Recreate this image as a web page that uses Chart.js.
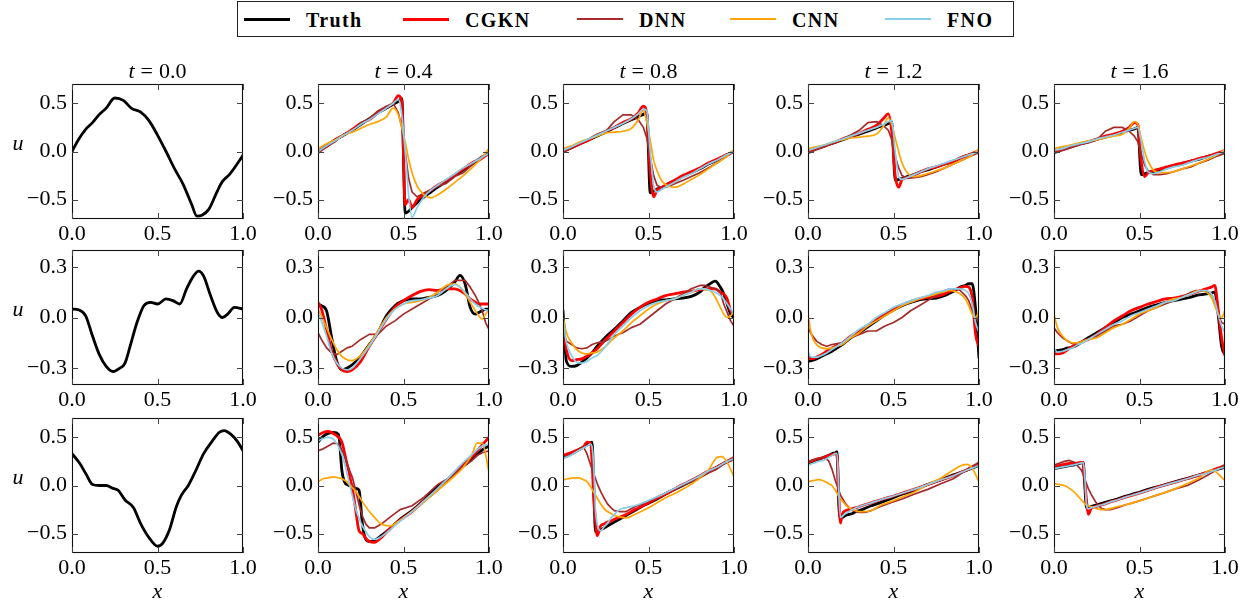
<!DOCTYPE html>
<html>
<head>
<meta charset="utf-8">
<script src="https://cdn.jsdelivr.net/npm/chart.js@4.4.0/dist/chart.umd.min.js"></script>
<style>
    body { margin: 0; background: #fff; }
    #fig { position: relative; width: 1250px; height: 605px; overflow: hidden; font-family: 'Liberation Serif', serif; color: #000; }
    #fig canvas { position: absolute; }
    .txt { position: absolute; font-size: 22px; white-space: nowrap; transform: translate(-50%, -50%); line-height: 1; }
    .eq { margin: 0 6px; }
    #legend { position: absolute; left: 237px; top: 1px; width: 775px; height: 34px; border: 1px solid #222; box-sizing: content-box; }
    .leg-line { position: absolute; height: 0; }
    .leg-text { position: absolute; font-weight: bold; font-size: 20px; letter-spacing: 1.4px; transform: translateY(-50%); line-height: 1; }
</style>
</head>
<body>
<div id="fig">
    <div id="legend"></div>
</div>
<script>
// ---- data ----
const seriesNames = ['Truth', 'CGKN', 'DNN', 'CNN', 'FNO'];
const times = ['0.0', '0.4', '0.8', '1.2', '1.6'];
const xTicks = [0, 0.5, 1];
const yTicksOuter = [-0.5, 0, 0.5];
const yTicksMiddle = [-0.3, 0, 0.3];

// initial conditions (t = 0)
const xs0Row1 = [0, .04, .08, .12, .16, .2, .25, .3, .35, .4, .45, .5, .55, .6, .65, .7, .73, .76, .8, .85, .88, .92, .95, 1];
const u0Row1 = [0, .13, .23, .30, .385, .45, .555, .53, .445, .41, .32, .17, 0, -.18, -.34, -.55, -.67, -.66, -.60, -.41, -.31, -.24, -.17, -.04];
const xs0Row2 = [0, .04, .08, .12, .16, .2, .24, .28, .31, .34, .38, .42, .46, .5, .55, .59, .63, .67, .71, .74, .77, .81, .85, .88, .91, .95, 1];
const u0Row2 = [.05, .045, .01, -.11, -.22, -.29, -.32, -.30, -.27, -.17, -.03, .07, .09, .08, .11, .10, .08, .17, .245, .275, .245, .13, .03, 0, .02, .06, .05];
const xs0Row3 = [0, .045, .085, .12, .16, .2, .24, .27, .31, .36, .4, .45, .5, .53, .57, .61, .64, .68, .72, .77, .82, .86, .89, .93, .97, 1];
const u0Row3 = [.33, .23, .11, .01, 0, 0, -.03, -.05, -.15, -.23, -.39, -.54, -.63, -.60, -.46, -.22, -.10, 0, .14, .33, .46, .55, .57, .53, .45, .36];

// x grids for the predicted panels
const xsRow1 = [0, .05, .1, .15, .2, .25, .3, .35, .4, .44, .47, .49, .51, .53, .55, .58, .62, .66, .7, .75, .8, .85, .9, .95, 1];
const xsRow2 = [0, .02, .05, .08, .11, .14, .17, .2, .25, .3, .35, .4, .45, .5, .55, .6, .65, .7, .75, .8, .83, .86, .89, .92, .94, .96, .98, 1];
const xsRow3 = [0, .03, .06, .09, .12, .14, .16, .17, .18, .19, .2, .22, .24, .26, .28, .3, .33, .37, .42, .48, .55, .62, .7, .78, .85, .9, .93, .96, 1];

// row 1
const r1_04_truth = [0, .06, .12, .17, .22, .28, .34, .40, .45, .49, .52, .55, -.64, -.62, -.58, -.53, -.47, -.42, -.37, -.31, -.25, -.19, -.13, -.07, -.01];
const r1_04_cgkn = [0, .05, .12, .17, .23, .29, .33, .40, .46, .50, .58, .52, -.55, -.50, -.58, -.50, -.44, -.40, -.35, -.30, -.24, -.18, -.12, -.08, -.02];
const r1_04_dnn = [-.02, .05, .10, .18, .21, .30, .34, .42, .47, .50, .40, .25, 0, -.28, -.42, -.47, -.43, -.40, -.36, -.33, -.26, -.22, -.14, -.06, -.01];
const r1_04_cnn = [.03, .08, .12, .17, .20, .24, .28, .31, .36, .45, .38, .25, .10, -.08, -.22, -.36, -.45, -.48, -.45, -.39, -.32, -.25, -.17, -.08, .03];
const r1_04_fno = [0, .06, .11, .17, .22, .28, .33, .39, .45, .50, .54, .38, 0, -.45, -.68, -.58, -.47, -.40, -.35, -.29, -.23, -.17, -.12, -.07, -.02];

const r1_08_truth = [0, .04, .08, .12, .16, .20, .245, .29, .33, .36, .385, .40, -.43, -.41, -.39, -.37, -.33, -.30, -.26, -.22, -.18, -.13, -.09, -.04, 0];
const r1_08_cgkn = [0, .04, .08, .12, .17, .21, .25, .30, .34, .40, .47, .38, -.20, -.47, -.40, -.37, -.33, -.29, -.25, -.21, -.17, -.12, -.08, -.04, 0];
const r1_08_dnn = [-.01, .04, .09, .13, .18, .21, .31, .38, .38, .33, .25, .14, -.05, -.25, -.35, -.38, -.36, -.33, -.30, -.26, -.22, -.17, -.12, -.06, 0];
const r1_08_cnn = [.03, .06, .10, .13, .16, .19, .20, .21, .24, .33, .43, .30, .12, -.09, -.20, -.31, -.36, -.37, -.34, -.29, -.24, -.18, -.12, -.06, .02];
const r1_08_fno = [.01, .05, .09, .13, .17, .21, .25, .29, .34, .39, .44, .42, 0, -.35, -.42, -.39, -.35, -.31, -.27, -.23, -.18, -.13, -.09, -.04, 0];

const r1_12_truth = [0, .03, .06, .09, .12, .15, .18, .21, .245, .27, .29, .31, -.30, -.29, -.28, -.26, -.24, -.21, -.19, -.16, -.13, -.10, -.06, -.03, 0];
const r1_12_cgkn = [-.01, .03, .06, .09, .13, .16, .19, .23, .27, .34, .39, .20, -.25, -.37, -.29, -.27, -.24, -.21, -.18, -.16, -.13, -.10, -.06, -.03, .01];
const r1_12_dnn = [-.02, .02, .05, .09, .13, .17, .22, .30, .31, .27, .22, .12, -.05, -.17, -.25, -.28, -.27, -.26, -.24, -.21, -.17, -.13, -.09, -.05, -.01];
const r1_12_cnn = [.03, .05, .07, .10, .12, .14, .15, .16, .18, .26, .35, .28, .14, 0, -.12, -.22, -.26, -.25, -.23, -.20, -.17, -.13, -.09, -.05, .03];
const r1_12_fno = [.01, .04, .07, .10, .13, .16, .19, .22, .25, .28, .31, .32, 0, -.26, -.29, -.27, -.24, -.21, -.18, -.15, -.12, -.09, -.06, -.03, 0];

const r1_16_truth = [0, .025, .05, .075, .10, .125, .15, .175, .20, .22, .235, .25, -.24, -.23, -.22, -.21, -.19, -.17, -.15, -.13, -.10, -.08, -.05, -.03, 0];
const r1_16_cgkn = [0, .02, .05, .08, .10, .13, .16, .18, .21, .25, .30, .28, -.10, -.26, -.22, -.20, -.18, -.16, -.14, -.12, -.10, -.07, -.05, -.02, .01];
const r1_16_dnn = [-.02, .01, .04, .07, .09, .12, .21, .25, .25, .21, .16, .10, -.02, -.14, -.20, -.24, -.24, -.23, -.21, -.18, -.16, -.12, -.09, -.05, -.02];
const r1_16_cnn = [.03, .05, .07, .09, .11, .12, .14, .16, .18, .24, .31, .28, .14, 0, -.10, -.19, -.22, -.22, -.21, -.18, -.15, -.12, -.08, -.04, .02];
const r1_16_fno = [.01, .03, .06, .08, .10, .13, .15, .17, .20, .22, .24, .25, .10, -.10, -.21, -.23, -.21, -.18, -.16, -.14, -.11, -.08, -.06, -.03, 0];

// row 2
const r2_04_truth = [.08, .07, .04, -.12, -.26, -.31, -.30, -.28, -.23, -.16, -.09, .01, .07, .10, .11, .11, .12, .13, .16, .21, .25, .20, .06, .02, .03, .04, .05, .05];
const r2_04_cgkn = [.09, .05, -.07, -.20, -.27, -.31, -.32, -.31, -.26, -.17, -.09, -.01, .06, .10, .13, .155, .165, .16, .17, .17, .16, .14, .11, .09, .08, .08, .08, .08];
const r2_04_dnn = [-.09, -.13, -.18, -.21, -.22, -.20, -.18, -.17, -.13, -.10, -.10, -.05, -.02, .02, .05, .08, .11, .15, .18, .22, .22, .22, .18, .13, .09, .04, -.03, -.07];
const r2_04_cnn = [.05, .01, -.06, -.13, -.19, -.23, -.25, -.255, -.225, -.16, -.08, 0, .05, .08, .09, .10, .12, .15, .19, .20, .18, .14, .09, .04, .01, -.01, .02, .05];
const r2_04_fno = [.03, -.02, -.11, -.21, -.27, -.30, -.31, -.30, -.24, -.17, -.09, -.01, .05, .08, .10, .105, .115, .13, .17, .195, .18, .15, .11, .08, .065, .055, .045, .04];

const r2_08_truth = [.04, -.26, -.29, -.285, -.265, -.24, -.21, -.17, -.115, -.07, -.02, .03, .06, .085, .10, .105, .11, .115, .125, .15, .18, .20, .215, .18, .14, .08, .02, 0];
const r2_08_cgkn = [-.03, -.19, -.255, -.25, -.245, -.23, -.21, -.185, -.13, -.08, -.03, .02, .06, .09, .11, .13, .14, .15, .155, .165, .17, .17, .17, .15, .14, .11, .04, .02];
const r2_08_dnn = [-.09, -.14, -.16, -.18, -.185, -.18, -.16, -.15, -.14, -.11, -.09, -.06, -.04, 0, .04, .08, .11, .14, .17, .19, .19, .18, .17, .15, .08, .03, -.02, -.05];
const r2_08_cnn = [.01, -.09, -.15, -.19, -.21, -.215, -.21, -.205, -.17, -.12, -.08, -.03, .01, .05, .08, .10, .11, .13, .15, .17, .165, .16, .12, .06, .02, 0, .01, .04];
const r2_08_fno = [-.01, -.15, -.225, -.265, -.27, -.26, -.24, -.225, -.17, -.10, -.05, 0, .04, .07, .09, .10, .11, .13, .15, .17, .17, .16, .15, .13, .11, .08, .05, .02];

const r2_12_truth = [-.26, -.255, -.245, -.23, -.215, -.20, -.18, -.16, -.12, -.09, -.055, -.02, .015, .045, .07, .09, .105, .11, .115, .13, .145, .16, .18, .19, .20, .20, .05, -.24];
const r2_12_cgkn = [-.235, -.245, -.235, -.22, -.20, -.18, -.165, -.15, -.11, -.08, -.045, -.01, .02, .05, .075, .095, .11, .12, .125, .14, .155, .165, .175, .185, .18, .12, -.10, -.17];
const r2_12_dnn = [-.06, -.10, -.14, -.16, -.17, -.16, -.155, -.15, -.12, -.10, -.08, -.08, -.05, -.03, 0, .04, .07, .10, .13, .16, .17, .17, .16, .13, .10, .04, 0, -.03];
const r2_12_cnn = [.02, -.10, -.16, -.18, -.185, -.18, -.17, -.16, -.12, -.09, -.05, -.02, .01, .04, .07, .09, .11, .125, .14, .155, .16, .155, .14, .11, .07, .02, 0, .04];
const r2_12_fno = [-.205, -.235, -.235, -.225, -.21, -.19, -.17, -.15, -.11, -.07, -.04, 0, .03, .06, .08, .10, .115, .13, .15, .16, .17, .17, .17, .16, .14, .08, -.03, -.09];

const r2_16_truth = [-.20, -.195, -.19, -.18, -.175, -.16, -.14, -.12, -.09, -.06, -.03, 0, .02, .04, .06, .075, .09, .10, .11, .12, .13, .135, .14, .145, .15, .02, -.17, -.22];
const r2_16_cgkn = [-.215, -.215, -.21, -.19, -.17, -.155, -.14, -.13, -.10, -.06, -.02, .01, .04, .06, .08, .095, .11, .115, .125, .14, .15, .16, .17, .18, .19, .05, -.12, -.225];
const r2_16_dnn = [-.06, -.09, -.12, -.14, -.155, -.15, -.14, -.13, -.11, -.08, -.05, -.04, -.02, .01, .04, .06, .08, .10, .12, .15, .16, .16, .155, .14, .09, .02, -.03, -.04];
const r2_16_cnn = [.02, -.06, -.11, -.14, -.15, -.15, -.14, -.13, -.12, -.09, -.06, -.04, -.01, .02, .04, .06, .09, .11, .12, .14, .155, .16, .15, .12, .07, .02, 0, .04];
const r2_16_fno = [-.185, -.205, -.20, -.19, -.18, -.16, -.15, -.13, -.10, -.07, -.04, -.02, .01, .03, .05, .07, .09, .10, .12, .14, .15, .16, .16, .14, .10, .02, -.05, -.09];

// row 3
const r3_04_truth = [.45, .51, .54, .55, .53, .15, .02, .01, 0, 0, -.01, -.03, -.05, -.40, -.56, -.58, -.57, -.52, -.45, -.35, -.26, -.15, -.01, .09, .20, .27, .32, .37, .41];
const r3_04_cgkn = [.52, .55, .56, .54, .50, .45, .30, .22, .15, .06, -.02, -.25, -.47, -.50, -.55, -.58, -.59, -.54, -.45, -.36, -.27, -.16, -.04, .10, .22, .30, .36, .42, .50];
const r3_04_dnn = [.36, .38, .41, .44, .43, .37, .28, .23, .18, .13, .09, -.05, -.20, -.32, -.40, -.44, -.44, -.40, -.33, -.25, -.21, -.12, .01, .09, .20, .26, .31, .34, .36];
const r3_04_cnn = [.04, .07, .08, .09, .08, .07, .05, .04, .01, 0, -.02, -.06, -.11, -.17, -.22, -.27, -.33, -.40, -.42, -.36, -.27, -.17, -.05, .07, .19, .32, .44, .44, .14];
const r3_04_fno = [.46, .49, .50, .48, .40, .32, .20, .12, .05, -.03, -.10, -.24, -.34, -.42, -.48, -.53, -.56, -.53, -.46, -.37, -.27, -.16, -.03, .11, .24, .32, .37, .41, .43];

const r3_08_truth = [.29, .31, .34, .37, .40, .42, .44, .45, 0, -.48, -.48, -.46, -.44, -.42, -.40, -.38, -.35, -.31, -.26, -.20, -.14, -.07, 0, .07, .14, .19, .22, .25, .28];
const r3_08_cgkn = [.31, .33, .35, .37, .40, .45, .44, .25, -.15, -.35, -.52, -.42, -.40, -.38, -.37, -.35, -.33, -.30, -.25, -.20, -.13, -.07, .01, .08, .15, .19, .22, .25, .29];
const r3_08_dnn = [.28, .31, .33, .36, .40, .33, .22, .17, .12, .07, .02, -.06, -.13, -.19, -.23, -.26, -.27, -.27, -.22, -.18, -.12, -.06, 0, .06, .13, .17, .21, .24, .27];
const r3_08_cnn = [.06, .07, .08, .08, .06, .04, -.01, -.04, -.07, -.10, -.13, -.19, -.24, -.27, -.29, -.31, -.325, -.335, -.30, -.25, -.18, -.11, -.04, .05, .16, .29, .30, .24, .09];
const r3_08_fno = [.28, .30, .33, .36, .39, .41, .43, .40, .19, -.25, -.40, -.47, -.43, -.39, -.34, -.30, -.25, -.23, -.21, -.17, -.12, -.06, .01, .08, .15, .19, .22, .25, .28];

const r3_12_truth = [.23, .25, .27, .29, .31, .33, .34, .35, -.20, -.33, -.33, -.31, -.30, -.29, -.27, -.26, -.24, -.21, -.18, -.14, -.09, -.05, .01, .06, .11, .14, .16, .18, .21];
const r3_12_cgkn = [.24, .26, .28, .29, .31, .32, .33, .30, -.10, -.39, -.30, -.26, -.25, -.24, -.23, -.22, -.20, -.18, -.15, -.12, -.08, -.04, .01, .06, .10, .14, .16, .19, .22];
const r3_12_dnn = [.24, .27, .28, .29, .26, .17, .05, 0, -.05, -.10, -.13, -.19, -.23, -.26, -.27, -.28, -.28, -.26, -.22, -.18, -.14, -.09, -.04, .02, .07, .13, .17, .20, .24];
const r3_12_cnn = [.04, .05, .06, .05, .02, 0, -.05, -.08, -.11, -.14, -.16, -.20, -.23, -.25, -.26, -.27, -.27, -.26, -.21, -.17, -.12, -.07, .01, .08, .16, .21, .22, .18, .04];
const r3_12_fno = [.21, .23, .25, .26, .29, .31, .33, .33, -.05, -.33, -.32, -.29, -.27, -.25, -.23, -.22, -.20, -.18, -.15, -.12, -.08, -.04, .01, .06, .10, .14, .16, .18, .21];

const r3_16_truth = [.175, .185, .195, .205, .215, .225, .235, .24, 0, -.23, -.23, -.215, -.205, -.195, -.185, -.175, -.16, -.14, -.11, -.08, -.04, -.005, .035, .075, .11, .14, .155, .17, .19];
const r3_16_cgkn = [.19, .21, .22, .23, .23, .235, .24, .24, .05, -.15, -.30, -.23, -.22, -.21, -.20, -.19, -.17, -.15, -.12, -.09, -.05, -.01, .03, .07, .11, .14, .16, .18, .21];
const r3_16_dnn = [.21, .23, .25, .26, .24, .20, .16, .12, .06, .02, -.03, -.10, -.16, -.21, -.24, -.25, -.25, -.23, -.20, -.17, -.13, -.09, -.04, 0, .06, .11, .14, .17, .21];
const r3_16_cnn = [.02, .01, 0, -.03, -.07, -.11, -.15, -.17, -.19, -.20, -.21, -.22, -.235, -.245, -.25, -.25, -.24, -.22, -.20, -.17, -.13, -.09, -.04, .02, .08, .15, .16, .12, .05];
const r3_16_fno = [.175, .185, .195, .205, .215, .225, .235, .24, .10, -.20, -.24, -.23, -.22, -.21, -.20, -.19, -.17, -.15, -.12, -.09, -.05, -.01, .03, .07, .11, .13, .15, .17, .19];

// ---- assembling ----
const x0Grids = [xs0Row1, xs0Row2, xs0Row3];
const u0Rows = [u0Row1, u0Row2, u0Row3];
const xGrids = [xsRow1, xsRow2, xsRow3];
const yTickRows = [yTicksOuter, yTicksMiddle, yTicksOuter];
const yLimits = [0.7, 0.4, 0.7];
const predictions = [
    [
        [r1_04_truth, r1_04_cgkn, r1_04_dnn, r1_04_cnn, r1_04_fno],
        [r1_08_truth, r1_08_cgkn, r1_08_dnn, r1_08_cnn, r1_08_fno],
        [r1_12_truth, r1_12_cgkn, r1_12_dnn, r1_12_cnn, r1_12_fno],
        [r1_16_truth, r1_16_cgkn, r1_16_dnn, r1_16_cnn, r1_16_fno]
    ],
    [
        [r2_04_truth, r2_04_cgkn, r2_04_dnn, r2_04_cnn, r2_04_fno],
        [r2_08_truth, r2_08_cgkn, r2_08_dnn, r2_08_cnn, r2_08_fno],
        [r2_12_truth, r2_12_cgkn, r2_12_dnn, r2_12_cnn, r2_12_fno],
        [r2_16_truth, r2_16_cgkn, r2_16_dnn, r2_16_cnn, r2_16_fno]
    ],
    [
        [r3_04_truth, r3_04_cgkn, r3_04_dnn, r3_04_cnn, r3_04_fno],
        [r3_08_truth, r3_08_cgkn, r3_08_dnn, r3_08_cnn, r3_08_fno],
        [r3_12_truth, r3_12_cgkn, r3_12_dnn, r3_12_cnn, r3_12_fno],
        [r3_16_truth, r3_16_cgkn, r3_16_dnn, r3_16_cnn, r3_16_fno]
    ]
];

// ---- style / layout ----
const seriesColors = ['#000000', '#ff0000', '#a52a2a', '#ffa500', '#87ceeb'];
const seriesWidths = [2.8, 2.8, 1.7, 1.7, 1.7];
const colLeft = [72, 318, 563, 808, 1054];
const rowTop = [84, 250, 418];
const plotW = 171, plotH = 135;
const padL = 62, padR = 22, padT = 8, padB = 34;
const fontFamily = "'Liberation Serif', serif";
const legendX = [244, 403, 577, 730, 885];

const fig = document.getElementById('fig');

function fmt(v) {
    if (Math.abs(v) < 1e-9) return '0.0';
    return (v < 0 ? '\u2212' : '') + Math.abs(v).toFixed(1);
}

const framePlugin = {
    id: 'frame',
    afterDatasetsDraw(chart) {
        const ctx = chart.ctx;
        const a = chart.chartArea;
        const xs = chart.scales.x;
        const ys = chart.scales.y;
        ctx.save();
        ctx.strokeStyle = '#111';
        ctx.lineWidth = 1.1;
        ctx.strokeRect(a.left + 0.5, a.top + 0.5, a.right - a.left - 1, a.bottom - a.top - 1);
        ctx.strokeStyle = '#444';
        ctx.lineWidth = 1;
        ctx.beginPath();
        xs.ticks.forEach(t => {
            const px = Math.round(xs.getPixelForValue(t.value)) + 0.5;
            ctx.moveTo(px, a.bottom); ctx.lineTo(px, a.bottom - 6);
            ctx.moveTo(px, a.top); ctx.lineTo(px, a.top + 6);
        });
        ys.ticks.forEach(t => {
            const py = Math.round(ys.getPixelForValue(t.value)) + 0.5;
            ctx.moveTo(a.left, py); ctx.lineTo(a.left + 6, py);
            ctx.moveTo(a.right, py); ctx.lineTo(a.right - 6, py);
        });
        ctx.stroke();
        ctx.restore();
    }
};

function series(xs, ys, k) {
    return {
        label: seriesNames[k],
        data: xs.map((x, i) => ({ x: x, y: ys[i] })),
        borderColor: seriesColors[k],
        borderWidth: seriesWidths[k],
        borderJoinStyle: 'round',
        borderCapStyle: 'round',
        cubicInterpolationMode: k === 2 ? 'default' : 'monotone',
        tension: 0,
        order: 5 - k,
        clip: 0,
        pointRadius: 0,
        fill: false
    };
}

function makePanel(row, col, datasets) {
    const canvas = document.createElement('canvas');
    canvas.width = padL + plotW + padR;
    canvas.height = padT + plotH + padB;
    canvas.style.left = (colLeft[col] - padL) + 'px';
    canvas.style.top = (rowTop[row] - padT) + 'px';
    fig.appendChild(canvas);

    const lim = yLimits[row];
    const tickFont = { family: fontFamily, size: 22 };

    new Chart(canvas, {
        type: 'line',
        data: { datasets: datasets },
        options: {
            responsive: false,
            animation: false,
            devicePixelRatio: 1,
            events: [],
            layout: { padding: { left: 0, right: padR, top: padT, bottom: 0 } },
            plugins: { legend: { display: false }, tooltip: { enabled: false } },
            scales: {
                x: {
                    type: 'linear', min: 0, max: 1,
                    grid: { display: false, drawTicks: false },
                    border: { display: false },
                    afterBuildTicks: s => { s.ticks = xTicks.map(v => ({ value: v })); },
                    afterFit: s => { s.height = padB; s.paddingLeft = 0; s.paddingRight = 0; },
                    ticks: { padding: 2, color: '#000', font: tickFont, maxRotation: 0, autoSkip: false, callback: fmt }
                },
                y: {
                    type: 'linear', min: -lim, max: lim,
                    grid: { display: false, drawTicks: false },
                    border: { display: false },
                    afterBuildTicks: s => { s.ticks = yTickRows[row].map(v => ({ value: v })); },
                    afterFit: s => { s.width = padL; s.paddingTop = 0; s.paddingBottom = 0; },
                    ticks: { padding: 5, color: '#000', font: tickFont, autoSkip: false, callback: fmt }
                }
            }
        },
        plugins: [framePlugin]
    });
}

function addText(html, x, y, cls) {
    const d = document.createElement('div');
    d.className = cls || 'txt';
    d.innerHTML = html;
    d.style.left = x + 'px';
    d.style.top = y + 'px';
    fig.appendChild(d);
    return d;
}

for (let r = 0; r < 3; r++) {
    makePanel(r, 0, [series(x0Grids[r], u0Rows[r], 0)]);
    for (let c = 1; c < 5; c++) {
        const set = predictions[r][c - 1];
        makePanel(r, c, set.map((ys, k) => series(xGrids[r], ys, k)));
    }
    addText('<i>u</i>', 18, rowTop[r] + plotH / 2 - 9);
}

for (let c = 0; c < 5; c++) {
    const cx = colLeft[c] + plotW / 2;
    addText('<i>t</i><span class="eq">=</span>' + times[c], cx, 71);
    addText('<i>x</i>', cx, 591);
}

// legend
const legend = document.getElementById('legend');
seriesNames.forEach((name, k) => {
    const ln = document.createElement('div');
    ln.className = 'leg-line';
    ln.style.left = (legendX[k] - 238) + 'px';
    ln.style.width = '46px';
    ln.style.top = (17 - seriesWidths[k] / 2) + 'px';
    ln.style.borderTop = (k < 2 ? 3.5 : 2.2) + 'px solid ' + seriesColors[k];
    legend.appendChild(ln);
    const tx = document.createElement('div');
    tx.className = 'leg-text';
    tx.textContent = name;
    tx.style.left = (legendX[k] - 238 + 62) + 'px';
    tx.style.top = '18px';
    legend.appendChild(tx);
});
</script>
</body>
</html>
